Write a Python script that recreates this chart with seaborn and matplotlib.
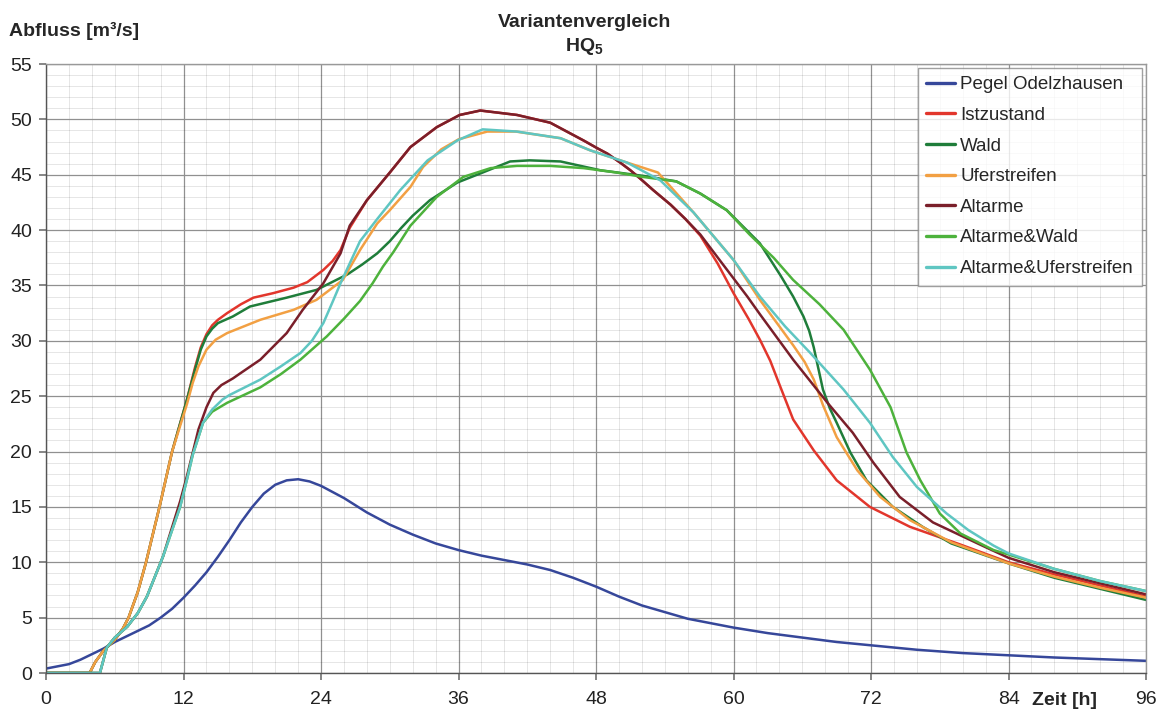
import pandas as pd
import matplotlib.pyplot as plt
import seaborn as sns
from matplotlib.ticker import MultipleLocator

# Abflussganglinien - Variantenvergleich HQ5

t_pegel = [0, 1, 2, 3, 4, 5, 6, 7, 8, 9, 10, 11, 12, 13, 14, 15, 16, 17, 18, 19, 20, 21, 22, 23, 24,
           26, 28, 30, 32, 34, 36, 38, 40, 42, 44, 46, 48, 50, 52, 54, 56, 58, 60, 63, 66, 69, 72,
           76, 80, 84, 88, 92, 96]
q_pegel = [0.4, 0.6, 0.8, 1.2, 1.7, 2.2, 2.8, 3.3, 3.8, 4.3, 5.0, 5.8, 6.8, 7.9, 9.1, 10.5, 12.0, 13.6,
           15.0, 16.2, 17.0, 17.4, 17.5, 17.3, 16.9, 15.8, 14.5, 13.4, 12.5, 11.7, 11.1, 10.6, 10.2,
           9.8, 9.3, 8.6, 7.8, 6.9, 6.1, 5.5, 4.9, 4.5, 4.1, 3.6, 3.2, 2.8, 2.5, 2.1, 1.8, 1.6, 1.4,
           1.25, 1.1]

t_ist = [0, 3.8, 4.3, 5, 6, 6.7, 7.2, 8, 8.7, 9.9, 11, 12.3, 13, 13.5, 14, 14.5, 15, 15.8, 17, 18.1,
         19.8, 21.6, 22.8, 24.2, 25, 25.7, 26.5, 28, 30, 31.8, 34.1, 36.1, 37.9, 41.1, 44, 46.9, 48.1,
         49, 50.1, 51, 51.8, 53, 54.5, 55.8, 57.1, 58.6, 60, 61.3, 62.3, 63.2, 64.1, 65.2, 67, 69,
         71.9, 75.4, 79.8, 84, 88, 92, 96]
q_ist = [0, 0, 1.0, 2.0, 3.0, 4.0, 5.0, 7.3, 9.9, 15, 20, 24.7, 27.6, 29.4, 30.6, 31.4, 31.9, 32.5,
         33.3, 33.9, 34.3, 34.8, 35.3, 36.4, 37.2, 38.2, 40.2, 42.7, 45.2, 47.5, 49.3, 50.4, 50.8,
         50.4, 49.7, 48.1, 47.4, 46.9, 46.1, 45.4, 44.7, 43.6, 42.3, 41.0, 39.5, 37.0, 34.3, 32.0,
         30.1, 28.2, 25.8, 22.9, 20.1, 17.4, 15.0, 13.2, 11.6, 10.0, 8.9, 7.9, 6.9]

t_wald = [0, 3.8, 4.3, 5, 6, 6.7, 7.2, 8, 8.7, 9.9, 11, 12.3, 13, 13.5, 14, 14.5, 15, 16.3, 17.8,
          21, 23.6, 26.3, 27.6, 28.9, 30, 31, 32, 33.5, 35.9, 38.1, 40.5, 42.2, 44.9, 48.4, 52.1, 55,
          57.1, 59.4, 62.3, 64.1, 65.2, 66.1, 66.6, 67, 67.4, 67.8, 68.4, 69, 70.2, 71.6, 73.9, 76.5,
          79, 84, 88, 92, 96]
q_wald = [0, 0, 1.0, 2.0, 3.0, 4.0, 5.0, 7.3, 9.9, 15, 20, 24.7, 27.4, 29.2, 30.4, 31.1, 31.6, 32.2,
          33.1, 33.9, 34.6, 36.0, 36.9, 37.9, 39.0, 40.2, 41.3, 42.7, 44.3, 45.2, 46.2, 46.3, 46.2,
          45.4, 44.9, 44.4, 43.3, 41.8, 38.8, 35.9, 34.0, 32.2, 30.9, 29.4, 27.5, 25.6, 23.9, 22.6,
          19.9, 17.4, 15.0, 13.2, 11.7, 9.9, 8.6, 7.6, 6.6]

t_ufer = [0, 3.8, 4.3, 5, 6, 6.7, 7.2, 8, 8.7, 9.9, 11, 12.3, 12.8, 13.3, 14, 14.8, 15.8, 18.7,
          21.6, 23.6, 25.9, 27.4, 28.9, 30, 31.8, 32.9, 34.5, 36, 38.5, 41, 44.9, 47.5, 50.7, 53.4,
          56.5, 60, 62.3, 64, 65.2, 66.2, 67, 67.8, 69, 70.8, 72.8, 75.4, 79, 84, 88, 92, 96]
q_ufer = [0, 0, 1.0, 2.0, 3.0, 4.0, 5.0, 7.3, 9.9, 15, 20, 24.3, 26.2, 27.7, 29.2, 30.1, 30.7, 31.9,
          32.8, 33.7, 35.5, 38.2, 40.6, 41.8, 43.9, 45.7, 47.3, 48.2, 48.9, 48.9, 48.3, 47.2, 46.1,
          45.2, 41.6, 37.3, 33.7, 31.3, 29.6, 28.1, 26.5, 24.2, 21.3, 18.3, 15.9, 13.8, 11.8, 9.9,
          8.7, 7.7, 6.8]

t_alt = [0, 4.7, 5.3, 6, 7.1, 8, 8.8, 10.2, 11.7, 12.3, 12.8, 13.3, 14, 14.6, 15.3, 16.3, 17, 18.7,
         21, 22.4, 24.2, 25.7, 26.5, 28, 30, 31.8, 34.1, 36.1, 37.9, 41.1, 44, 46.9, 48.1, 49, 50.1,
         51, 51.8, 53, 54.5, 55.8, 57.1, 59, 61.2, 62.3, 65.2, 68.2, 70.4, 72.2, 74.5, 77.4, 81.3,
         84, 88, 92, 96]
q_alt = [0, 0, 2.3, 3.2, 4.2, 5.4, 6.9, 10.5, 15.5, 17.8, 19.9, 22.0, 24.0, 25.3, 26.0, 26.6, 27.1,
         28.3, 30.7, 32.8, 35.2, 37.9, 40.4, 42.7, 45.2, 47.5, 49.3, 50.4, 50.8, 50.4, 49.7, 48.1,
         47.4, 46.9, 46.1, 45.4, 44.7, 43.6, 42.3, 41.0, 39.6, 37.0, 34.0, 32.4, 28.3, 24.4, 21.7,
         19.0, 15.9, 13.6, 11.7, 10.4, 9.1, 8.1, 7.1]

t_alt_wald = [0, 4.7, 5.3, 6, 7.1, 8, 8.8, 10.2, 11.7, 12.3, 12.8, 13.3, 13.7, 14.5, 15.8, 18.7,
              20.5, 22.2, 24.5, 26, 27.4, 28.5, 29.4, 30.3, 31.8, 34.1, 36.4, 38.8, 41.1, 44, 46.9,
              49.8, 52.1, 55, 57.1, 59.4, 61.4, 63.5, 65.2, 67.5, 69.6, 71.9, 73.7, 75.1, 76.3, 78,
              79.8, 82.7, 84, 88, 92, 96]
q_alt_wald = [0, 0, 2.3, 3.2, 4.2, 5.4, 6.9, 10.5, 15.0, 17.5, 19.7, 21.3, 22.6, 23.6, 24.4, 25.8,
              27.0, 28.3, 30.4, 32.0, 33.6, 35.2, 36.7, 38.0, 40.4, 43.0, 44.8, 45.6, 45.8, 45.8,
              45.6, 45.2, 44.8, 44.4, 43.3, 41.8, 39.6, 37.5, 35.5, 33.3, 31.0, 27.4, 24.0, 19.9,
              17.4, 14.4, 12.6, 11.1, 10.7, 9.4, 8.3, 7.4]

t_alt_ufer = [0, 4.7, 5.3, 6, 7.1, 8, 8.8, 10.2, 11.7, 12.3, 12.8, 13.3, 13.7, 14.5, 15.4, 16,
              18.7, 20.5, 22.2, 23.2, 24.2, 25, 25.7, 27.4, 28.9, 30.9, 33.3, 35.9, 38.1, 41.1,
              44.9, 47.5, 50.7, 53.6, 56.5, 60, 62.3, 64.5, 66.7, 69.6, 71.9, 73.9, 76, 78.6, 80.5,
              82.7, 84, 88, 92, 96]
q_alt_ufer = [0, 0, 2.3, 3.2, 4.2, 5.4, 6.9, 10.5, 15.0, 17.5, 19.7, 21.3, 22.6, 23.8, 24.7, 25.1,
              26.5, 27.7, 28.9, 30.0, 31.6, 33.5, 35.2, 39.0, 41.0, 43.6, 46.3, 48.1, 49.1, 48.9,
              48.3, 47.2, 46.1, 44.5, 41.6, 37.3, 34.0, 31.3, 28.9, 25.6, 22.6, 19.5, 16.8, 14.4,
              12.9, 11.5, 10.8, 9.4, 8.3, 7.4]

series = {
    'Pegel Odelzhausen': (t_pegel, q_pegel),
    'Istzustand': (t_ist, q_ist),
    'Wald': (t_wald, q_wald),
    'Uferstreifen': (t_ufer, q_ufer),
    'Altarme': (t_alt, q_alt),
    'Altarme&Wald': (t_alt_wald, q_alt_wald),
    'Altarme&Uferstreifen': (t_alt_ufer, q_alt_ufer),
}
colors = {
    'Pegel Odelzhausen': '#36479a',
    'Istzustand': '#e2362c',
    'Wald': '#1f7d3a',
    'Uferstreifen': '#f2a043',
    'Altarme': '#7a1f2a',
    'Altarme&Wald': '#4db23c',
    'Altarme&Uferstreifen': '#5fc6c2',
}

frames = []
for name, (t, q) in series.items():
    frames.append(pd.DataFrame({'Zeit': t, 'Abfluss': q, 'Variante': name}))
df = pd.concat(frames, ignore_index=True)

sns.set_theme(style='white')
plt.rcParams['font.family'] = ['Liberation Sans', 'DejaVu Sans']
plt.rcParams['mathtext.fontset'] = 'custom'
plt.rcParams['mathtext.rm'] = 'Liberation Sans'
plt.rcParams['mathtext.bf'] = 'Liberation Sans:bold'

fig = plt.figure(figsize=(11.6, 7.13), dpi=100)
ax = fig.add_axes([0.0397, 0.0561, 0.9483, 0.8541])

sns.lineplot(data=df, x='Zeit', y='Abfluss', hue='Variante', hue_order=list(series.keys()),
             palette=colors, estimator=None, sort=False, linewidth=1.8, ax=ax)

ax.set_xlim(0, 96)
ax.set_ylim(0, 55)
ax.xaxis.set_major_locator(MultipleLocator(12))
ax.xaxis.set_minor_locator(MultipleLocator(2))
ax.yaxis.set_major_locator(MultipleLocator(5))
ax.yaxis.set_minor_locator(MultipleLocator(1))
ax.grid(which='major', color='#909090', alpha=1.0, linewidth=0.9, linestyle='-')
ax.grid(which='minor', color='black', alpha=0.1, linewidth=0.7, linestyle='-')
ax.set_axisbelow(True)
for side in ['left', 'bottom']:
    ax.spines[side].set_color('#555555')
    ax.spines[side].set_linewidth(1.0)
for side in ['top', 'right']:
    ax.spines[side].set_color('#999999')
    ax.spines[side].set_linewidth(1.0)
ax.tick_params(axis='both', which='major', labelsize=14, length=5, color='#777777',
               direction='out', left=True, bottom=True, labelcolor='#222222')
ax.tick_params(axis='x', pad=8)
ax.tick_params(axis='y', pad=5)
ax.set_xlabel('')
ax.set_ylabel('')

fig.text(0.008, 0.957, 'Abfluss [m³/s]', fontsize=14, fontweight='bold', ha='left', va='center')
fig.text(0.504, 0.968, 'Variantenvergleich', fontsize=14, fontweight='bold', ha='center', va='center')
fig.text(0.504, 0.935, r'HQ$_\mathbf{5}$', fontsize=14, fontweight='bold', ha='center', va='center')
fig.text(0.918, 0.018, 'Zeit [h]', fontsize=14, fontweight='bold', ha='center', va='center')

leg = ax.legend(loc='upper right', fontsize=13.5, frameon=True, fancybox=False, borderaxespad=0.2,
                handlelength=1.5, handletextpad=0.3, labelspacing=0.72, borderpad=0.45)
leg.get_frame().set_edgecolor('#888888')
leg.get_frame().set_linewidth(1.0)
for line in leg.get_lines():
    line.set_linewidth(2.4)

plt.savefig('out.png', dpi=100)
